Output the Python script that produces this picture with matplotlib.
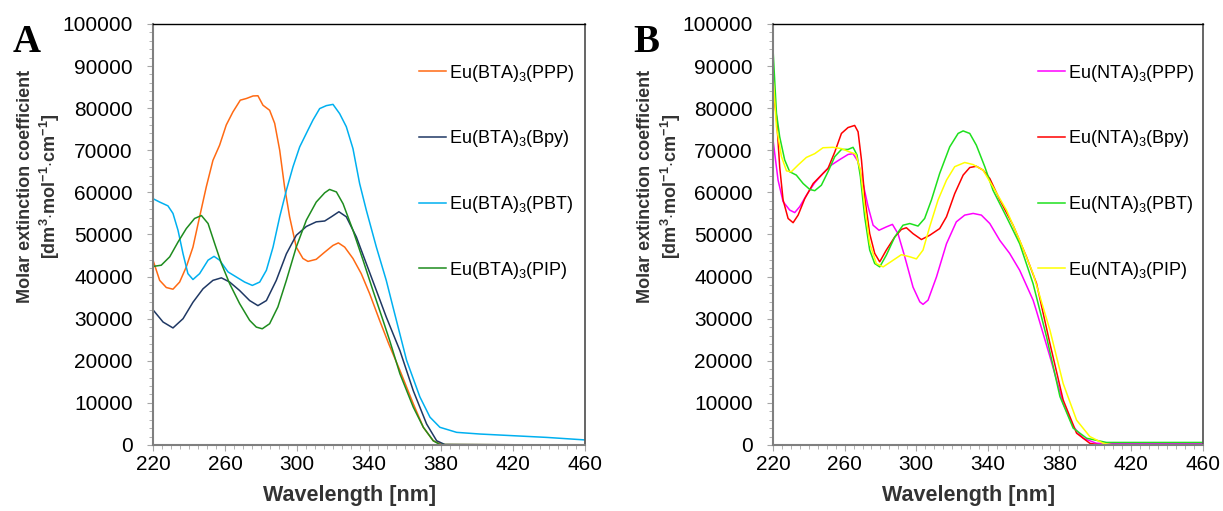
import numpy as np
import matplotlib
matplotlib.use('Agg')
import matplotlib.pyplot as plt
from matplotlib.ticker import MultipleLocator

plt.rcParams['font.family'] = ['Liberation Sans', 'DejaVu Sans']
plt.rcParams['mathtext.fontset'] = 'custom'
plt.rcParams['mathtext.rm'] = 'Liberation Sans'
plt.rcParams['mathtext.bf'] = 'Liberation Sans:bold'

# ---- panel A : Eu(BTA)3 complexes (values in 1000 dm3 mol-1 cm-1) ----
wl_a_ppp = [220, 223.7, 227.4, 231.1, 234.8, 238.5, 242.2, 245.9, 249.6, 253.3, 257,
            260.7, 264.4, 268.5, 271.9, 275.6, 278.3, 281.1, 284.8, 287.6, 290.4,
            293.1, 295.9, 299.6, 303.3, 306.1, 310.7, 315.4, 320, 323, 326.5,
            331.1, 335.7, 340.4, 345.9, 351, 357.2, 364.6, 370.2, 375.7, 380.4, 460]
eps_a_ppp = [43.9, 39.1, 37.4, 37.0, 38.7, 42.3, 47.0, 54.2, 61.3, 67.6, 71.2,
             76.0, 79.1, 81.9, 82.3, 82.9, 82.95, 80.7, 79.5, 76.4, 70.0,
             61.3, 54.2, 47.0, 44.3, 43.6, 44.1, 45.8, 47.4, 48.0, 47.0,
             44.3, 40.7, 35.9, 29.6, 24.0, 17.7, 9.8, 4.2, 1.0, 0.1, 0]

wl_a_bpy = [220, 225.6, 231.1, 236.7, 242.2, 247.8, 253.3, 258, 262.6, 268.1, 273.7,
            278.3, 283, 288.5, 294.1, 299.6, 305.2, 310.7, 315.4, 319.1, 323.3,
            327.4, 333, 338.5, 344.1, 349.6, 357.2, 364.6, 372, 377.6, 382.2, 460]
eps_a_bpy = [32.1, 29.2, 27.8, 30.0, 33.9, 37.1, 39.1, 39.7, 38.7, 36.7, 34.3,
             33.1, 34.3, 39.1, 45.4, 49.8, 51.9, 53.0, 53.2, 54.2, 55.4,
             54.2, 49.4, 43.1, 36.7, 30.4, 22.4, 12.9, 5.0, 1.0, 0.1, 0]

wl_a_pbt = [220, 223.7, 228.3, 231.1, 233.9, 236.7, 239.4, 242.2, 245.9, 250.6, 253.9,
            257, 261.7, 266.3, 270.9, 275.2, 279.3, 283, 286.7, 290.4, 294.1,
            297.8, 301.5, 306.1, 308.9, 312.6, 316.3, 320, 323.7, 327.4, 331.1,
            334.8, 338.5, 344.1, 349.6, 353.5, 360.9, 368.3, 373.9, 379.4, 388.7,
            401.7, 420.2, 438.7, 460]
eps_a_pbt = [58.5, 57.7, 56.8, 55.0, 51.0, 45.4, 40.7, 39.3, 40.7, 43.9, 44.8,
             43.9, 41.1, 39.9, 38.7, 37.9, 38.7, 41.5, 47.0, 54.2, 60.5,
             66.1, 70.8, 74.8, 77.2, 79.9, 80.6, 80.9, 78.7, 75.6, 70.4,
             62.1, 55.8, 47.0, 39.1, 32.5, 20.1, 11.4, 6.6, 4.2, 3.0,
             2.6, 2.2, 1.8, 1.2]

wl_a_pip = [220, 224.6, 229.3, 233.9, 238.5, 243.1, 246.9, 250.6, 254.3, 258, 262.6,
            268.1, 273.7, 277.4, 280.7, 284.8, 289.4, 294.1, 299.6, 305.2, 310.7,
            315.4, 318.1, 321.9, 325.6, 331.1, 336.7, 342.2, 347.8, 351.5, 357.2,
            364.6, 370.2, 375.7, 379.4, 460]
eps_a_pip = [42.4, 42.7, 44.7, 48.2, 51.4, 53.8, 54.5, 52.6, 47.8, 43.1, 38.3,
             33.6, 29.6, 28.0, 27.6, 28.8, 32.8, 39.1, 47.0, 53.4, 57.7,
             59.9, 60.7, 60.1, 57.3, 51.0, 43.9, 36.7, 29.6, 24.8, 16.9,
             9.0, 4.2, 1.0, 0.1, 0]

# ---- panel B : Eu(NTA)3 complexes ----
wl_b_ppp = [220, 222.8, 225.6, 229.3, 232.1, 234.9, 238.6, 243.3, 247.9, 252.6, 257.3,
            261.9, 264.7, 267.5, 270.3, 273.1, 275.9, 279.2, 283.3, 286.7, 289.8,
            293.6, 298.2, 302, 303.8, 306.6, 311.3, 316.9, 322.4, 327.1, 331.8,
            336.4, 341.1, 346.7, 352.2, 357.8, 365.3, 367.2, 374.7, 382.1, 387.7,
            393.3, 400.7, 460]
eps_b_ppp = [72.4, 62.9, 57.8, 55.8, 55.2, 56.6, 59.3, 62.3, 64.5, 66.5, 67.8,
             69.0, 69.2, 67.3, 62.1, 56.6, 52.2, 51.0, 51.8, 52.4, 50.2,
             44.7, 37.5, 34.0, 33.4, 34.4, 39.9, 47.8, 53.0, 54.6, 55.0,
             54.6, 52.6, 48.6, 45.5, 41.5, 34.4, 31.8, 21.0, 9.9, 4.4,
             1.6, 0.4, 0.3]

wl_b_bpy = [220, 221.9, 223.7, 225.6, 228.4, 231.2, 234, 237.7, 242.4, 247, 250.7,
            254.5, 258.2, 261.9, 265.6, 267.5, 269.4, 271.2, 274, 276.8, 279.6,
            283.3, 288, 291.7, 294.5, 298.2, 302.9, 307.5, 313.1, 316.9, 321.5,
            326.2, 329.9, 333.6, 337.3, 341.1, 346.7, 354.1, 361.6, 367.2, 374.7,
            382.1, 389.6, 397, 402.6, 460]
eps_b_bpy = [84.0, 78.0, 66.1, 58.2, 53.8, 52.8, 54.6, 58.5, 62.1, 64.1, 65.7,
             69.6, 74.0, 75.4, 75.9, 74.4, 67.7, 58.9, 50.2, 45.5, 43.5,
             46.3, 49.4, 51.2, 51.6, 50.2, 48.8, 49.8, 51.4, 54.2, 59.7,
             64.1, 65.9, 66.2, 65.3, 63.3, 58.2, 52.2, 44.7, 38.4, 24.1,
             10.7, 2.8, 0.4, 0, 0]

wl_b_pbt = [220, 221.9, 223.7, 226.5, 229.3, 233, 236.8, 240.5, 243.3, 247, 250.7,
            254.5, 258.2, 261.9, 264.7, 266.9, 268.8, 271.2, 274, 276.8, 279.6,
            283.3, 288, 292.6, 296.4, 301, 304.7, 308.5, 313.1, 318.7, 323.4,
            326.2, 329.9, 333.6, 338.3, 342.9, 350.4, 357.8, 365.3, 372.8, 380.3,
            387.7, 395.2, 406.3, 460]
eps_b_pbt = [93.8, 78.8, 73.2, 67.7, 64.9, 64.1, 62.1, 60.7, 60.4, 61.7, 64.9,
             68.5, 70.2, 70.2, 70.7, 68.9, 63.7, 54.2, 46.3, 43.1, 42.3,
             45.1, 49.4, 52.2, 52.6, 52.0, 53.8, 58.2, 64.5, 70.8, 74.0,
             74.6, 74.0, 71.2, 66.1, 60.5, 54.2, 47.8, 38.3, 25.7, 11.5,
             4.0, 1.6, 0.6, 0.6]

wl_b_pip = [220, 221.9, 224.7, 227.5, 230.2, 234, 238.6, 243.3, 247.9, 253.5, 258.2,
            262.8, 266.2, 268.8, 271.2, 274, 277.7, 281.5, 286.1, 291.7, 296.4,
            300.1, 303.8, 307.5, 312.2, 316.9, 321.5, 327.1, 331.8, 337.3, 342.9,
            350.4, 357.8, 365.3, 374.7, 382.1, 389.6, 397, 404.5, 410, 460]
eps_b_pip = [87.5, 75.6, 68.5, 65.1, 64.9, 66.5, 68.3, 69.2, 70.6, 70.7, 70.4,
             69.6, 69.1, 65.3, 56.6, 47.9, 43.1, 42.3, 43.6, 45.2, 44.7,
             44.2, 46.3, 51.8, 58.2, 62.9, 66.1, 67.1, 66.6, 65.3, 61.3,
             55.8, 48.6, 40.7, 27.3, 14.6, 5.9, 2.0, 0.4, 0, 0]

series_a = [
    (r"Eu(BTA)$_3$(PPP)", wl_a_ppp, eps_a_ppp, '#FF6A13'),
    (r"Eu(BTA)$_3$(Bpy)", wl_a_bpy, eps_a_bpy, '#1F3864'),
    (r"Eu(BTA)$_3$(PBT)", wl_a_pbt, eps_a_pbt, '#00B0F0'),
    (r"Eu(BTA)$_3$(PIP)", wl_a_pip, eps_a_pip, '#1E8C1E'),
]
series_b = [
    (r"Eu(NTA)$_3$(PPP)", wl_b_ppp, eps_b_ppp, '#FF00FF'),
    (r"Eu(NTA)$_3$(Bpy)", wl_b_bpy, eps_b_bpy, '#FF0000'),
    (r"Eu(NTA)$_3$(PBT)", wl_b_pbt, eps_b_pbt, '#1EE01E'),
    (r"Eu(NTA)$_3$(PIP)", wl_b_pip, eps_b_pip, '#FFFF00'),
]
wl_ticks = [220, 260, 300, 340, 380, 420, 460]

fig = plt.figure(figsize=(12.23, 5.11), dpi=100)
ax_a = fig.add_axes([0.1251, 0.1292, 0.3532, 0.8239])
ax_b = fig.add_axes([0.6321, 0.1292, 0.3512, 0.8239])

label_col = '#333333'
ylab = ("Molar extinction coefficient\n"
        r"[dm$^{\mathbf{3}}$$\mathbf{\cdot}$mol$^{\mathbf{-1}}$$\mathbf{\cdot}$cm$^{\mathbf{-1}}$]")

for ax, series, letter in [(ax_a, series_a, 'A'), (ax_b, series_b, 'B')]:
    for name, wl, eps, col in series:
        ax.plot(wl, np.array(eps) * 1000, color=col, lw=1.1, label=name,
                solid_joinstyle='round')

    ax.set_xlim(220, 460)
    ax.set_ylim(0, 100000)
    ax.set_xticks(wl_ticks)
    ax.xaxis.set_minor_locator(MultipleLocator(5))
    ax.yaxis.set_major_locator(MultipleLocator(10000))
    ax.yaxis.set_minor_locator(MultipleLocator(2000))
    # tick lengths / pads in points (1 pt = 1.39 px here)
    ax.tick_params(which='both', direction='out', color='#a6a6a6', labelsize=15)
    ax.tick_params(axis='y', which='major', length=4, pad=10.5)
    ax.tick_params(axis='y', which='minor', length=3)
    ax.tick_params(axis='x', which='major', length=4, pad=3.5)
    ax.tick_params(axis='x', which='minor', length=3)

    ax.spines['top'].set_color('black')
    ax.spines['top'].set_linewidth(1.0)
    ax.spines['right'].set_color('#595959')
    ax.spines['right'].set_linewidth(1.3)
    for s in ['left', 'bottom']:
        ax.spines[s].set_color('#7f7f7f')
        ax.spines[s].set_linewidth(1.5)

    ax.set_xlabel("Wavelength [nm]", fontsize=15.5, fontweight='bold', color=label_col)
    ax.xaxis.set_label_coords(0.455, -0.095)
    ax.set_ylabel(ylab, fontsize=13, fontweight='bold', color=label_col,
                  linespacing=1.25)
    ax.yaxis.set_label_coords(-0.21, 0.615)

    ax.legend(loc='upper left', bbox_to_anchor=(0.6, 0.925), frameon=False,
              fontsize=13, handlelength=1.5, handletextpad=0.15,
              labelspacing=2.47, borderaxespad=0)

    ax.text(-0.325, 1.0, letter, transform=ax.transAxes, fontsize=28,
            fontweight='bold', family='Liberation Serif', va='top', ha='left')

fig.savefig('out.png', dpi=100)
